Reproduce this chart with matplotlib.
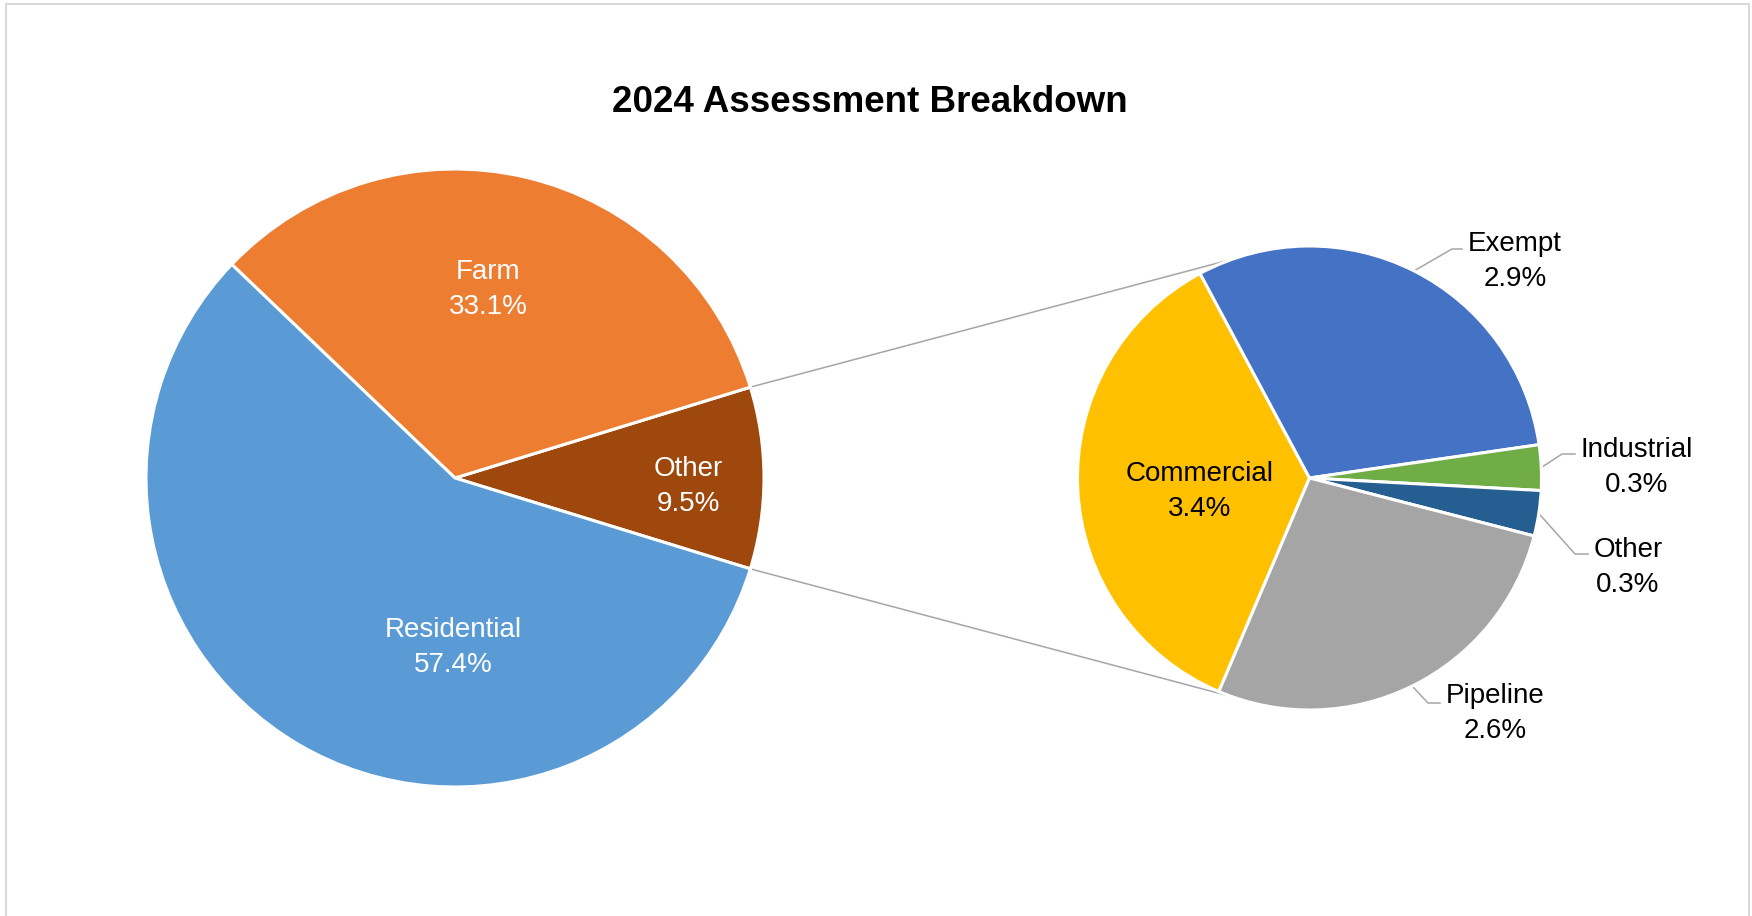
import numpy as np
import matplotlib
matplotlib.use("Agg")
import matplotlib.pyplot as plt
from matplotlib.patches import Rectangle

plt.rcParams['font.family'] = ['Liberation Sans', 'DejaVu Sans']

# ---- data -------------------------------------------------------------
title = "2024 Assessment Breakdown"

main_labels = ["Residential", "Farm", "Other"]
main_values = [57.4, 33.1, 9.5]
main_colors = ["#5B9BD5", "#ED7D31", "#9E480E"]

sub_labels = ["Commercial", "Exempt", "Industrial", "Other", "Pipeline"]
sub_values = [3.4, 2.9, 0.3, 0.3, 2.6]
sub_colors = ["#FFC000", "#4472C4", "#70AD47", "#255E91", "#A5A5A5"]

# ---- canvas (axes data units == pixels, y pointing up) -----------------
W, H = 1752, 916
fig = plt.figure(figsize=(W / 100, H / 100), dpi=100)
ax = fig.add_axes([0, 0, 1, 1])


def iy(y):
    """Convert a top-down pixel row into the y-up data coordinate."""
    return H - y


MAIN_C = (455, iy(478))
MAIN_R = 309
SUB_C = (1309.5, iy(478))
SUB_R = 232
EDGE = dict(edgecolor="white", linewidth=2.2)
GRAY = "#A6A6A6"
FS = 20
LINE_GAP = 35

# main pie: the "Other" slice is centred on the 3 o'clock direction
order = [2, 1, 0]
other_share = main_values[2] / sum(main_values) * 360
main_wedges, _ = ax.pie([main_values[i] for i in order],
                        colors=[main_colors[i] for i in order],
                        startangle=-other_share / 2, counterclock=True,
                        center=MAIN_C, radius=MAIN_R, frame=True,
                        wedgeprops=EDGE)

# secondary pie breaking down "Other"
sub_wedges, _ = ax.pie(sub_values, colors=sub_colors, startangle=247,
                       counterclock=False, center=SUB_C, radius=SUB_R,
                       frame=True, wedgeprops=EDGE)

# connector lines between the "Other" slice and the breakdown pie
other_wedge = main_wedges[0]
CONNECT_ANGLE = 109.3
for a_main, a_sub in [(other_wedge.theta2, CONNECT_ANGLE),
                      (other_wedge.theta1, -CONNECT_ANGLE)]:
    p0 = (MAIN_C[0] + MAIN_R * np.cos(np.radians(a_main)),
          MAIN_C[1] + MAIN_R * np.sin(np.radians(a_main)))
    p1 = (SUB_C[0] + SUB_R * np.cos(np.radians(a_sub)),
          SUB_C[1] + SUB_R * np.sin(np.radians(a_sub)))
    ax.plot([p0[0], p1[0]], [p0[1], p1[1]], color=GRAY, lw=1.1,
            solid_capstyle="butt", zorder=0)


def two_line(x, base_y, name, value, color):
    ax.text(x, iy(base_y), name, ha="center", va="baseline",
            fontsize=FS, color=color)
    ax.text(x, iy(base_y + LINE_GAP), f"{value:.1f}%", ha="center",
            va="baseline", fontsize=FS, color=color)


# labels inside the main pie: (centre x, first-line baseline)
main_label_pos = {"Residential": (453, 637), "Farm": (488, 279),
                  "Other": (688, 476)}
for name, val in zip(main_labels, main_values):
    x, b = main_label_pos[name]
    two_line(x, b, name, val, "white")

# labels of the breakdown pie
sub_label_pos = {"Commercial": (1200, 481), "Exempt": (1515, 251),
                 "Industrial": (1637, 457), "Other": (1628, 557),
                 "Pipeline": (1495, 703)}
# leader elbows and ends (x_elbow, x_end, row) for outside labels
leaders = {"Exempt": (1452, 1462, 249), "Industrial": (1562, 1575, 454),
           "Other": (1575, 1588, 554), "Pipeline": (1428, 1440, 703)}

for wedge, name, val in zip(sub_wedges, sub_labels, sub_values):
    x, b = sub_label_pos[name]
    two_line(x, b, name, val, "black")
    if name in leaders:
        mid = np.radians((wedge.theta1 + wedge.theta2) / 2)
        sx = SUB_C[0] + SUB_R * np.cos(mid)
        sy = SUB_C[1] + SUB_R * np.sin(mid)
        ex, ee, row = leaders[name]
        ax.plot([sx, ex, ee], [sy, iy(row), iy(row)], color=GRAY, lw=1.1,
                zorder=0)

ax.text(870, iy(112), title, ha="center", va="baseline", fontsize=26.5,
        fontweight="bold", color="black")

# light chart-area frame
ax.add_patch(Rectangle((6, iy(925)), 1743, 921, fill=False,
                       edgecolor="#D9D9D9", lw=1.5, zorder=-1))

ax.set_xlim(0, W)
ax.set_ylim(0, H)
ax.set_aspect("equal")
ax.axis("off")

fig.savefig("out.png", dpi=100, facecolor="white")
